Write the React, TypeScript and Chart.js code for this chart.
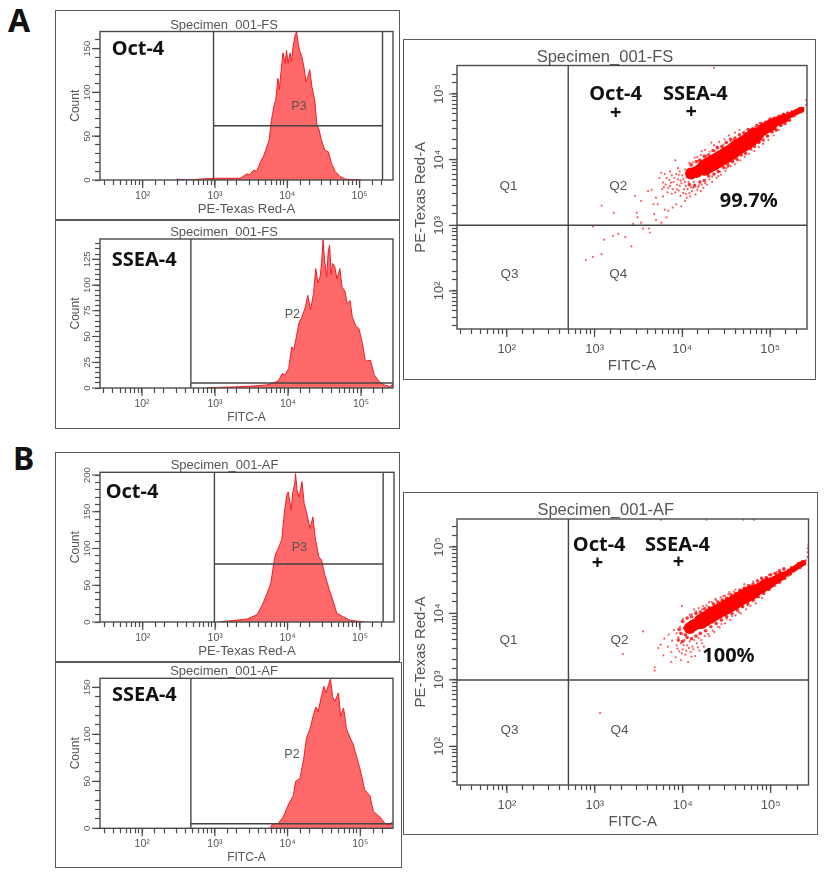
import React, { useEffect, useRef } from "react";
import { Chart, registerables } from "chart.js";

Chart.register(...registerables);

type Pair = [number, number];

// Histogram outlines: [log10(fluorescence), count]
const octFs: Pair[] = [[2.47,1],[2.61,0],[2.79,1],[2.98,2],[3.16,2],[3.35,2],[3.39,4],[3.44,7],[3.48,6],[3.53,11],[3.58,10],[3.62,19],[3.67,27],[3.71,36],[3.75,46],[3.78,68],[3.82,86],[3.84,91],[3.87,116],[3.89,103],[3.92,129],[3.94,145],[3.97,133],[3.99,148],[4.01,133],[4.04,145],[4.06,135],[4.08,152],[4.11,166],[4.13,169],[4.15,156],[4.17,148],[4.2,141],[4.23,129],[4.26,112],[4.29,120],[4.31,126],[4.34,107],[4.38,91],[4.41,63],[4.44,57],[4.47,46],[4.52,34],[4.57,32],[4.61,19],[4.66,10],[4.73,4],[4.8,1],[4.91,0.5],[5.03,0]];
const sseaFs: Pair[] = [[2.89,0.3],[3.25,1],[3.53,2],[3.71,3],[3.8,5],[3.87,7],[3.92,14],[3.96,12.6],[4.01,19],[4.05,40],[4.08,37],[4.11,48],[4.15,63],[4.19,69],[4.24,79],[4.27,90],[4.31,76],[4.35,92],[4.38,116],[4.41,102],[4.44,108],[4.46,121],[4.48,144],[4.5,124],[4.53,108],[4.55,132],[4.57,139],[4.59,110],[4.61,121],[4.64,118],[4.67,106],[4.71,116],[4.74,98],[4.78,94],[4.81,82],[4.85,85],[4.88,69],[4.93,60],[4.97,58],[5.02,43],[5.06,26],[5.13,27],[5.18,13],[5.25,6],[5.32,3],[5.39,1.3],[5.45,4.5]];
const octAf: Pair[] = [[3.07,0.5],[3.25,2],[3.44,4],[3.58,10],[3.65,23],[3.71,37],[3.77,53],[3.81,80],[3.83,91],[3.88,102],[3.92,112],[3.96,152],[3.99,173],[4.01,177],[4.05,152],[4.07,175],[4.1,189],[4.11,202],[4.13,180],[4.16,170],[4.2,191],[4.23,161],[4.27,146],[4.31,127],[4.35,143],[4.38,116],[4.43,89],[4.47,84],[4.51,66],[4.57,46],[4.64,25],[4.68,12],[4.77,7],[4.87,2],[5.05,0.5]];
const sseaAf: Pair[] = [[3.76,0.7],[3.8,5],[3.87,5],[3.94,12],[4.01,25],[4.08,35],[4.11,50],[4.17,53],[4.22,73],[4.26,96],[4.31,106],[4.35,119],[4.39,129],[4.42,124],[4.47,142],[4.5,151],[4.53,144],[4.56,152],[4.59,159],[4.62,140],[4.65,135],[4.7,144],[4.73,119],[4.77,128],[4.81,106],[4.86,96],[4.9,90],[4.95,76],[5,62],[5.06,41],[5.13,35],[5.18,18],[5.27,12],[5.34,5],[5.4,3.5],[5.44,7]];

// Dot plots: [log10(FITC-A), log10(PE-Texas Red-A)]
const fsCoreWide: Pair[] = [[4.254,3.878],[4.302,3.918],[4.349,3.949],[4.397,3.987],[4.444,4.025],[4.492,4.063],[4.539,4.101],[4.587,4.146],[4.634,4.192],[4.682,4.23],[4.729,4.268],[4.777,4.316],[4.824,4.365]];
const fsCore: Pair[] = [[4.1,3.79],[4.159,3.81],[4.207,3.85],[4.872,4.41],[4.919,4.456],[4.967,4.494],[5.014,4.532]];
const fsBody: Pair[] = [[5.05,4.56],[5.09,4.583],[5.13,4.61],[5.166,4.634]];
const fsTaper: Pair[] = [[5.205,4.66],[5.242,4.685],[5.27,4.705],[5.3,4.725],[5.33,4.745],[5.356,4.761]];
const fsFuzz: Pair[] = [[4.1,3.92],[4.16,3.97],[4.2,3.99],[4.25,4.05],[4.3,4.07],[4.35,4.14],[4.4,4.18],[4.45,4.2],[4.5,4.26],[4.55,4.31],[4.6,4.33],[4.65,4.38],[4.7,4.41],[4.75,4.46],[4.8,4.47],[4.85,4.52],[4.9,4.55],[4.95,4.57],[5,4.62],[5.05,4.63],[5.1,4.66],[5.15,4.69],[5.2,4.71],[4.08,3.62],[4.14,3.6],[4.2,3.66],[4.25,3.68],[4.3,3.75],[4.36,3.78],[4.41,3.82],[4.47,3.88],[4.52,3.92],[4.57,3.97],[4.62,4.01],[4.67,4.07],[4.72,4.1],[4.77,4.17],[4.82,4.2],[4.87,4.26],[4.92,4.3],[4.97,4.36],[5.02,4.42],[5.07,4.45],[5.12,4.52],[5.17,4.55],[5.22,4.6]];
const fsDots: Pair[] = [[3.08,3.3],[3.22,3.19],[2.98,2.98],[3.11,2.78],[3.21,2.84],[3.27,2.87],[3.35,2.82],[3.42,2.68],[2.9,2.47],[2.98,2.52],[3.08,2.56],[3.19,1.41],[4.36,5.4],[3.46,3.45],[3.53,3.37],[3.61,3.52],[3.65,3.54],[3.67,3.32],[3.72,3.32],[3.7,3.42],[3.78,3.44],[3.48,3.19],[3.49,3.12],[3.53,3.04],[3.44,3.02],[3.55,2.95],[3.63,2.89],[3.62,2.95],[3.68,3.17],[3.7,3.08],[3.76,3.04],[3.8,3.24],[3.84,3.22],[3.82,3.12],[3.89,3.27],[3.93,3.32],[3.99,3.29],[4.03,3.37],[3.76,3.8],[3.82,3.72],[3.86,3.82],[3.78,3.65],[3.84,3.57],[3.87,3.65],[3.91,3.72],[3.92,3.99],[3.95,3.87],[3.97,3.6],[4.01,3.49],[4.05,3.42],[4.08,3.49],[4.12,3.57],[4.01,3.7],[3.96,3.77],[4.03,3.85],[4.08,3.95],[4.14,4.03],[4.22,4.13],[4.33,4.26],[4.39,4.2],[4.22,3.62],[4.31,3.7],[4.41,3.75],[4.5,3.87],[4.58,3.97],[4.69,4.13],[4.81,4.25],[4.92,4.35],[5.03,4.45],[5.15,4.57],[4.73,4.4],[4.58,4.3],[4.46,4.18],[4.88,4.56],[5.03,4.63],[5.19,4.66],[5.41,4.91],[5.41,4.83],[5.42,4.87],[5.38,4.79],[3.79,3.58],[3.88,3.48],[3.94,3.55],[3.98,3.68],[4.04,3.6],[4.07,3.66],[4.1,3.58],[4.14,3.62],[4.18,3.58],[4.19,3.99],[4.26,3.64],[4.27,4.06],[4.34,3.74],[4.37,4.13],[4.43,3.81],[4.47,4.23],[4.52,3.89],[4.55,4.28],[4.63,3.99],[4.66,4.34],[4.72,4.08],[4.77,4.45],[4.79,4.15],[4.83,4.5],[4.88,4.27],[4.91,4.52],[4.97,4.36],[4.99,4.59],[5.06,4.46],[5.07,4.64],[5.13,4.53],[5.16,4.67],[5.21,4.6],[5.24,4.74],[5.28,4.66],[5.33,4.79],[5.36,4.72],[3.74,3.72],[3.77,3.55],[3.8,3.78],[3.81,3.62],[3.83,3.5],[3.85,3.69],[3.86,3.6],[3.88,3.76],[3.89,3.55],[3.9,3.66],[3.92,3.5],[3.93,3.78],[3.94,3.62],[3.95,3.7],[3.96,3.53],[3.97,3.82],[3.98,3.45],[3.99,3.64],[4,3.76],[4.02,3.55],[4.03,3.66],[4.04,3.48],[4.05,3.73],[4.06,3.55],[4.09,3.44],[4.11,3.52],[4.13,3.66],[4.15,3.47],[4.17,3.54],[4.19,3.61],[4.21,3.52],[4.24,3.57],[4.28,3.62],[4.12,3.96],[4.17,4.04],[4.21,4.07],[4.26,4.15],[4.31,4.12],[4.36,4.22],[4.42,4.27],[4.48,4.31],[4.53,4.37],[4.6,4.41],[4.65,4.45],[4.34,3.66],[4.39,3.72],[4.44,3.77],[4.49,3.83],[4.55,3.9],[4.6,3.93],[4.66,3.99],[4.71,4.04],[4.76,4.09],[4.82,4.13],[4.87,4.19],[4.92,4.24],[4.98,4.3],[5.04,4.37],[5.1,4.45]];

const afCoreWide: Pair[] = [[4.21,3.88],[4.26,3.92],[4.31,3.96],[4.355,3.995],[4.4,4.03],[4.45,4.065],[4.5,4.1],[4.545,4.135],[4.59,4.17],[4.64,4.21],[4.69,4.25],[4.735,4.28],[4.78,4.31]];
const afCore: Pair[] = [[4.08,3.78],[4.12,3.82],[4.165,3.85],[4.83,4.345],[4.88,4.38],[4.925,4.415],[4.97,4.45]];
const afBody: Pair[] = [[5.01,4.475],[5.05,4.5],[5.085,4.53],[5.12,4.56]];
const afTaper: Pair[] = [[5.15,4.58],[5.18,4.6],[5.215,4.63],[5.25,4.66],[5.28,4.685],[5.31,4.71],[5.34,4.735],[5.37,4.76]];
const afFuzz: Pair[] = [[4,3.88],[4.05,3.93],[4.1,3.95],[4.15,4],[4.2,4.02],[4.25,4.07],[4.3,4.09],[4.35,4.14],[4.4,4.17],[4.45,4.2],[4.5,4.23],[4.55,4.28],[4.6,4.3],[4.65,4.35],[4.7,4.38],[4.75,4.42],[4.8,4.44],[4.85,4.49],[4.9,4.52],[4.95,4.54],[5,4.58],[5.05,4.6],[5.1,4.64],[5.15,4.67],[3.95,3.6],[4,3.58],[4.05,3.64],[4.1,3.62],[4.15,3.66],[4.2,3.7],[4.26,3.74],[4.32,3.8],[4.38,3.85],[4.44,3.9],[4.5,3.95],[4.56,4],[4.62,4.05],[4.68,4.1],[4.74,4.15],[4.8,4.2],[4.86,4.25],[4.92,4.3],[4.98,4.36],[5.04,4.42],[5.1,4.47],[5.16,4.53],[5.22,4.59],[3.98,3.7],[4.02,3.78],[4.03,3.68],[3.96,3.76]];
const afDots: Pair[] = [[3.75,5.41],[4.27,5.41],[4.69,5.41],[4.81,5.41],[3.06,2.5],[3.55,3.73],[3.32,3.39],[3.99,4.11],[3.68,3.19],[3.68,3.14],[3.78,3.37],[3.87,3.27],[3.72,3.48],[3.75,3.53],[3.79,3.62],[3.83,3.5],[3.84,3.68],[3.87,3.42],[3.88,3.59],[3.9,3.75],[3.92,3.34],[3.93,3.52],[3.95,3.64],[3.96,3.43],[3.97,3.8],[3.98,3.3],[3.98,3.55],[4,3.92],[4,3.46],[4.02,3.6],[4.03,3.38],[4.05,3.52],[4.06,3.27],[4.08,3.58],[4.08,3.98],[4.09,3.42],[4.11,3.5],[4.13,3.6],[4.14,3.36],[4.15,4.03],[4.17,3.49],[4.18,3.63],[4.22,3.55],[4.23,4.11],[4.25,3.66],[4.29,3.69],[4.3,4.17],[4.34,3.74],[4.37,4.22],[4.4,3.8],[4.44,3.84],[4.46,4.26],[4.5,3.92],[4.53,4.32],[4.56,3.96],[4.6,4.36],[4.64,4.02],[4.68,4.1],[4.7,4.44],[4.74,4.12],[4.79,4.2],[4.8,4.48],[4.86,4.28],[4.89,4.54],[4.93,4.33],[4.98,4.58],[5.02,4.42],[5.07,4.62],[5.11,4.5],[5.15,4.66],[5.2,4.56],[5.23,4.7],[5.27,4.63],[5.31,4.76],[5.34,4.68],[5.38,4.79],[5.4,4.8],[5.42,4.85],[5.42,4.92],[5.42,4.98],[5.43,5.03],[3.93,3.7],[3.94,3.47],[3.99,3.4],[4.01,3.52],[4.04,3.44],[4.07,3.48],[4.1,3.35],[4.12,3.46],[4.16,3.55],[4.19,3.44],[4.21,3.6],[4.24,3.5],[4.1,3.99],[4.13,4.06],[4.18,4.08],[4.22,4.06],[4.27,4.12],[4.33,4.17],[4.38,4.2],[4.43,4.24],[4.48,4.27],[4.52,4.29],[4.58,4.33],[4.3,3.66],[4.36,3.72],[4.42,3.79],[4.48,3.85],[4.54,3.9],[4.6,3.97],[4.66,4],[4.72,4.06],[4.77,4.11],[4.83,4.15],[4.9,4.23]];

const xLabelOct = "PE-Texas Red-A";
const xLabelSsea = "FITC-A";
const yLabelHist = "Count";
const titleFs = "Specimen_001-FS";
const titleAf = "Specimen_001-AF";
const superscripts: Record<number, string> = { 1: "¹", 2: "²", 3: "³", 4: "⁴", 5: "⁵" };

type Lbl = { t: string; lx: number; y: number; bold?: boolean; size: number };

type Cfg = {
  frame: [number, number, number, number]; // left, top, right, bottom
  plot: [number, number, number, number];
  title: string; titleSize: number;
  xTitle: string; xTitleSize: number; xTitlePad: number;
  yTitle: string; yTitleSize: number; yTitleCenter: number;
  xRange: [number, number];
  yMax?: number; yStep?: number; yMajor?: number;
  yRange?: [number, number];
  tickSize: number; tickPad: number; yLabelCenter: number;
  datasets: any[];
  labels: Lbl[];
};

const RED = "#ff0000";
const GATE = "#454545";

const hist = (p: Pair[]) => ({
  data: p.map(([l, c]) => ({ x: 10 ** l, y: c })),
  showLine: true, fill: "origin", pointRadius: 0, borderWidth: 1,
  borderColor: "rgb(238,30,40)", backgroundColor: "rgb(255,105,105)",
});
const gate = (pts: Pair[]) => ({
  data: pts.map(([l, c]) => ({ x: 10 ** l, y: c })),
  showLine: true, fill: false, pointRadius: 0, borderWidth: 1.4, borderColor: GATE,
});
const gateLog = (pts: Pair[]) => ({
  data: pts.map(([l, c]) => ({ x: 10 ** l, y: 10 ** c })),
  showLine: true, fill: false, pointRadius: 0, borderWidth: 1.4, borderColor: GATE,
});
const dots = (p: Pair[], r: number, color: string) => ({
  data: p.map(([a, b]) => ({ x: 10 ** a, y: 10 ** b })),
  showLine: false, pointRadius: r, pointBorderWidth: 0, pointBackgroundColor: color,
});

const configs: Cfg[] = [
  {
    frame: [55, 10, 400, 220], plot: [100, 31.5, 393, 180],
    title: titleFs, titleSize: 13, xTitle: xLabelOct, xTitleSize: 13.2, xTitlePad: 3,
    yTitle: yLabelHist, yTitleSize: 12, yTitleCenter: 76,
    xRange: [1.41, 5.462], yMax: 169.5, yStep: 10, yMajor: 50,
    tickSize: 10.5, tickPad: 5, yLabelCenter: 87,
    datasets: [gate([[2.98, 0], [2.98, 169.5]]), gate([[5.317, 0], [5.317, 169.5]]), gate([[2.98, 62], [5.317, 62]]), hist(octFs)],
    labels: [
      { t: "Oct-4", lx: 1.935, y: 149.5, bold: true, size: 20 },
      { t: "P3", lx: 4.162, y: 83.7, size: 12.5 },
    ],
  },
  {
    frame: [55, 220, 400, 429], plot: [100, 239, 393, 388],
    title: titleFs, titleSize: 13, xTitle: xLabelSsea, xTitleSize: 12, xTitlePad: 4,
    yTitle: yLabelHist, yTitleSize: 12, yTitleCenter: 76,
    xRange: [1.425, 5.438], yMax: 144.7, yStep: 5, yMajor: 25,
    tickSize: 10.5, tickPad: 5, yLabelCenter: 87,
    datasets: [gate([[2.67, 0], [2.67, 144.7]]), gate([[2.67, 4.85], [5.438, 4.85]]), hist(sseaFs)],
    labels: [
      { t: "SSEA-4", lx: 2.03, y: 123.6, bold: true, size: 20 },
      { t: "P2", lx: 4.06, y: 71, size: 12.5 },
    ],
  },
  {
    frame: [403, 39, 816, 380], plot: [457, 65.5, 807, 329],
    title: titleFs, titleSize: 16.5, xTitle: xLabelSsea, xTitleSize: 15, xTitlePad: 5,
    yTitle: xLabelOct, yTitleSize: 15, yTitleCenter: 421,
    xRange: [1.433, 5.42], yRange: [1.42, 5.434],
    tickSize: 13, tickPad: 7.5, yLabelCenter: 439,
    datasets: [
      gateLog([[2.7, 1.42], [2.7, 5.434]]), gateLog([[1.433, 3], [5.42, 3]]),
      dots(fsCoreWide, 8, RED), dots(fsCore, 6, RED), dots(fsBody, 4.5, RED), dots(fsTaper, 3, RED),
      dots(fsFuzz, 1.8, "rgba(255,0,0,0.8)"), dots(fsDots, 1.1, "rgba(255,0,0,0.65)"),
    ],
    labels: [
      { t: "Oct-4", lx: 3.24, y: 5, bold: true, size: 20 },
      { t: "SSEA-4", lx: 4.148, y: 5, bold: true, size: 20 },
      { t: "+", lx: 3.24, y: 4.71, bold: true, size: 20 },
      { t: "+", lx: 4.1, y: 4.72, bold: true, size: 20 },
      { t: "Q1", lx: 2.02, y: 3.6, size: 13.5 },
      { t: "Q2", lx: 3.27, y: 3.6, size: 13.5 },
      { t: "Q3", lx: 2.03, y: 2.25, size: 13.5 },
      { t: "Q4", lx: 3.27, y: 2.25, size: 13.5 },
      { t: "99.7%", lx: 4.756, y: 3.36, bold: true, size: 20 },
    ],
  },
  {
    frame: [55, 452, 400, 662], plot: [100, 472.3, 394, 622],
    title: titleAf, titleSize: 13, xTitle: xLabelOct, xTitleSize: 13.2, xTitlePad: 2.5,
    yTitle: yLabelHist, yTitleSize: 12, yTitleCenter: 76,
    xRange: [1.41, 5.47], yMax: 203.7, yStep: 10, yMajor: 50,
    tickSize: 10.5, tickPad: 5, yLabelCenter: 87,
    datasets: [gate([[2.99, 0], [2.99, 203.7]]), gate([[5.32, 0], [5.32, 203.7]]), gate([[2.99, 79], [5.32, 79]]), hist(octAf)],
    labels: [
      { t: "Oct-4", lx: 1.852, y: 176, bold: true, size: 20 },
      { t: "P3", lx: 4.165, y: 100.7, size: 12.5 },
    ],
  },
  {
    frame: [55, 662, 402, 868], plot: [100, 678.3, 393, 828.3],
    title: titleAf, titleSize: 13, xTitle: xLabelSsea, xTitleSize: 12, xTitlePad: 3,
    yTitle: yLabelHist, yTitleSize: 12, yTitleCenter: 76,
    xRange: [1.42, 5.45], yMax: 159.6, yStep: 10, yMajor: 50,
    tickSize: 10.5, tickPad: 5, yLabelCenter: 87,
    datasets: [gate([[2.67, 0], [2.67, 159.6]]), gate([[2.67, 4.9], [5.45, 4.9]]), hist(sseaAf)],
    labels: [
      { t: "SSEA-4", lx: 2.03, y: 141.8, bold: true, size: 20 },
      { t: "P2", lx: 4.06, y: 78.7, size: 12.5 },
    ],
  },
  {
    frame: [403, 492, 818, 835], plot: [457, 519, 808.5, 785],
    title: titleAf, titleSize: 16.5, xTitle: xLabelSsea, xTitleSize: 15, xTitlePad: 4.3,
    yTitle: xLabelOct, yTitleSize: 15, yTitleCenter: 421,
    xRange: [1.433, 5.43], yRange: [1.42, 5.42],
    tickSize: 13, tickPad: 7.5, yLabelCenter: 439,
    datasets: [
      gateLog([[2.7, 1.42], [2.7, 5.42]]), gateLog([[1.433, 3], [5.43, 3]]),
      dots(afCoreWide, 7.5, RED), dots(afCore, 6, RED), dots(afBody, 4.5, RED), dots(afTaper, 3, RED),
      dots(afFuzz, 1.8, "rgba(255,0,0,0.8)"), dots(afDots, 1.1, "rgba(255,0,0,0.65)"),
    ],
    labels: [
      { t: "Oct-4", lx: 3.05, y: 5.03, bold: true, size: 20 },
      { t: "SSEA-4", lx: 3.94, y: 5.03, bold: true, size: 20 },
      { t: "+", lx: 3.03, y: 4.76, bold: true, size: 20 },
      { t: "+", lx: 3.95, y: 4.77, bold: true, size: 20 },
      { t: "Q1", lx: 2.02, y: 3.6, size: 13.5 },
      { t: "Q2", lx: 3.28, y: 3.6, size: 13.5 },
      { t: "Q3", lx: 2.03, y: 2.25, size: 13.5 },
      { t: "Q4", lx: 3.28, y: 2.25, size: 13.5 },
      { t: "100%", lx: 4.52, y: 3.36, bold: true, size: 20 },
    ],
  },
];

const SANS = '"Liberation Sans", Arial, sans-serif';
const BOLD = '"Noto Sans", sans-serif';

function logLabel(v: number): string {
  const e = Math.log10(v);
  const r = Math.round(e);
  return Math.abs(e - r) < 1e-6 && superscripts[r] ? "10" + superscripts[r] : "";
}

function makeChart(canvas: HTMLCanvasElement, c: Cfg): Chart {
  const [fl, ft, fr, fb] = c.frame;
  const [pl, pt, pr, pb] = c.plot;
  const isLogY = !!c.yRange;
  const xMin = 10 ** c.xRange[0], xMax = 10 ** c.xRange[1];
  const yMinV = isLogY ? 10 ** c.yRange![0] : 0;
  const yMaxV = isLogY ? 10 ** c.yRange![1] : c.yMax!;
  const near = (a: number, b: number) => Math.abs(a - b) / Math.max(1, Math.abs(b)) < 1e-6;
  const tickColor = (lo: number, hi: number) => (ctx: any) =>
    ctx.tick && (near(ctx.tick.value, lo) || near(ctx.tick.value, hi)) ? "rgba(0,0,0,0)" : "#4a4a4a";

  const plugin = {
    id: "flowPanel",
    afterDraw(chart: any) {
      const g = chart.ctx as CanvasRenderingContext2D;
      const { left, top, right, bottom } = chart.chartArea;
      const sx = chart.scales.x, sy = chart.scales.y;
      g.save();
      g.strokeStyle = "#4a4a4a";
      g.lineWidth = 1.4;
      g.strokeRect(left, top, right - left, bottom - top);
      g.lineWidth = 1.2;
      g.beginPath();
      sx.ticks.forEach((t: any) => {
        if (t.label) { const x = sx.getPixelForValue(t.value); g.moveTo(x, bottom); g.lineTo(x, bottom + 8); }
      });
      sy.ticks.forEach((t: any) => {
        if (t.label) { const y = sy.getPixelForValue(t.value); g.moveTo(left, y); g.lineTo(left - 8, y); }
      });
      g.stroke();
      const cx = c.yLabelCenter - fl;
      g.fillStyle = "#555";
      g.font = `${c.tickSize < 12 ? 9.5 : c.tickSize}px ${SANS}`;
      g.textAlign = "center";
      g.textBaseline = "middle";
      sy.ticks.forEach((t: any) => {
        if (!t.label) return;
        g.save();
        g.translate(cx, sy.getPixelForValue(t.value));
        g.rotate(-Math.PI / 2);
        g.fillText(String(t.label), 0, 0);
        g.restore();
      });
      c.labels.forEach((l) => {
        g.font = `${l.bold ? "700 " : ""}${l.size}px ${l.bold ? BOLD : SANS}`;
        g.fillStyle = l.bold ? "#111" : "#555";
        const yv = isLogY ? 10 ** l.y : l.y;
        g.fillText(l.t, sx.getPixelForValue(10 ** l.lx), sy.getPixelForValue(yv));
      });
      g.restore();
    },
  };

  return new Chart(canvas, {
    type: "scatter",
    data: { datasets: c.datasets.map((d) => ({ ...d })) },
    plugins: [plugin],
    options: {
      animation: false,
      responsive: false,
      devicePixelRatio: 1,
      layout: { padding: { left: 0, top: 0, right: fr - pr, bottom: 0 } },
      plugins: {
        legend: { display: false },
        tooltip: { enabled: false },
        title: {
          display: true,
          text: c.title,
          color: "#555",
          font: { family: SANS, size: c.titleSize, weight: "normal", lineHeight: 1 },
          padding: { top: pt - ft - c.titleSize, bottom: 0 },
        },
      },
      scales: {
        x: {
          type: "logarithmic",
          min: xMin, max: xMax,
          border: { display: false },
          grid: { drawOnChartArea: false, drawTicks: true, tickLength: 5, tickColor: tickColor(xMin, xMax), tickWidth: 1.2 },
          ticks: {
            autoSkip: false, maxRotation: 0, minRotation: 0, padding: c.tickPad,
            color: "#555", font: { family: SANS, size: c.tickSize },
            callback: (v: any) => logLabel(Number(v)),
          },
          title: {
            display: true, text: c.xTitle, color: "#555",
            font: { family: SANS, size: c.xTitleSize },
            padding: { top: 0, bottom: c.xTitlePad },
          },
          afterFit: (s: any) => { s.height = fb - pb; },
        },
        y: isLogY
          ? {
              type: "logarithmic", min: yMinV, max: yMaxV,
              border: { display: false },
              grid: { drawOnChartArea: false, drawTicks: true, tickLength: 5, tickColor: tickColor(yMinV, yMaxV), tickWidth: 1.2 },
              ticks: { display: false, autoSkip: false, callback: (v: any) => logLabel(Number(v)) },
              title: {
                display: true, text: c.yTitle, color: "#555",
                font: { family: SANS, size: c.yTitleSize },
                padding: { top: c.yTitleCenter - fl - c.yTitleSize * 0.6, bottom: 0 },
              },
              afterFit: (s: any) => { s.width = pl - fl; },
            }
          : {
              type: "linear", min: 0, max: yMaxV,
              border: { display: false },
              grid: { drawOnChartArea: false, drawTicks: true, tickLength: 5, tickColor: "#4a4a4a", tickWidth: 1.2 },
              ticks: {
                display: false, autoSkip: false, stepSize: c.yStep, includeBounds: false,
                callback: (v: any) => (Number(v) % c.yMajor! === 0 ? String(v) : ""),
              },
              title: {
                display: true, text: c.yTitle, color: "#555",
                font: { family: SANS, size: c.yTitleSize },
                padding: { top: c.yTitleCenter - fl - c.yTitleSize * 0.6, bottom: 0 },
              },
              afterFit: (s: any) => { s.width = pl - fl; },
            },
      },
    } as any,
  } as any);
}

export default function App() {
  const refs = useRef<(HTMLCanvasElement | null)[]>([]);
  useEffect(() => {
    document.body.style.margin = "0";
    document.body.style.background = "#fff";
    const charts = configs.map((c, i) => makeChart(refs.current[i]!, c));
    return () => charts.forEach((ch) => ch.destroy());
  }, []);
  const letter = (t: string, left: number, top: number) => (
    <div style={{ position: "absolute", left, top, font: `700 32px/32px ${BOLD}`, color: "#111" }}>{t}</div>
  );
  return (
    <div style={{ position: "relative", width: 827, height: 874, overflow: "hidden", background: "#fff", filter: "blur(0.45px)" }}>
      {configs.map((c, i) => (
        <canvas
          key={i}
          ref={(el) => { refs.current[i] = el; }}
          width={c.frame[2] - c.frame[0]}
          height={c.frame[3] - c.frame[1]}
          style={{
            position: "absolute", left: c.frame[0], top: c.frame[1],
            width: c.frame[2] - c.frame[0], height: c.frame[3] - c.frame[1],
            outline: "1.5px solid #5a5a5a", outlineOffset: -1.5,
          }}
        />
      ))}
      {letter("A", 8, 4)}
      {letter("B", 13, 442)}
    </div>
  );
}
